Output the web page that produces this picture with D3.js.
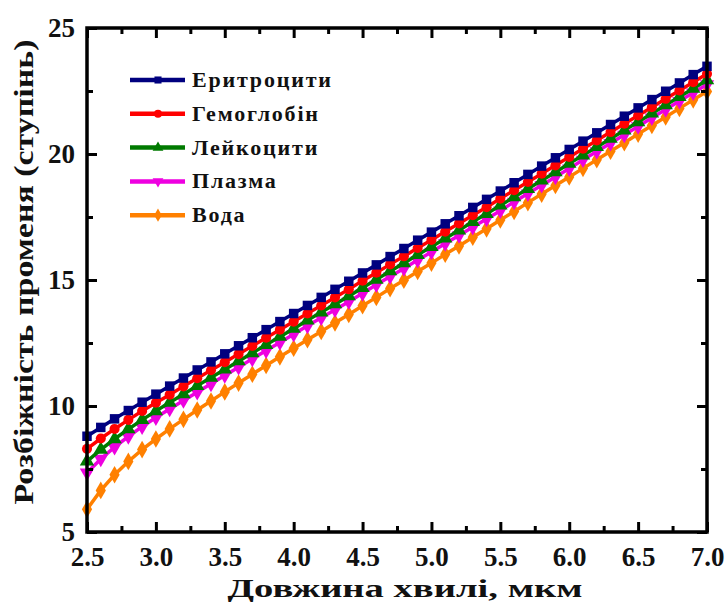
<!DOCTYPE html>
<html>
<head>
<meta charset="utf-8">
<script src="https://cdn.jsdelivr.net/npm/d3@7"></script>
<style>
  body { margin: 0; background: #fff; }
  text { font-family: "Liberation Serif", "Times New Roman", serif; font-weight: bold; fill: #111; }
</style>
</head>
<body>
<div id="chart"></div>
<script>
const width = 726
const height = 603
const margin = { top: 28, bottom: 71, left: 87, right: 19 }

// wavelength, um
const wavelength = [2.5, 2.6, 2.7, 2.8, 2.9, 3.0, 3.1, 3.2, 3.3, 3.4, 3.5, 3.6, 3.7, 3.8, 3.9, 4.0,
    4.1, 4.2, 4.3, 4.4, 4.5, 4.6, 4.7, 4.8, 4.9, 5.0, 5.1, 5.2, 5.3, 5.4, 5.5, 5.6, 5.7, 5.8, 5.9, 6.0,
    6.1, 6.2, 6.3, 6.4, 6.5, 6.6, 6.7, 6.8, 6.9, 7.0]

const erythrocytes = [8.80, 9.15, 9.49, 9.82, 10.15, 10.47, 10.79, 11.11, 11.43, 11.75, 12.07, 12.39, 12.71, 13.03, 13.35, 13.67,
    13.99, 14.31, 14.63, 14.95, 15.28, 15.60, 15.93, 16.25, 16.58, 16.90, 17.23, 17.55, 17.88, 18.20, 18.53, 18.86, 19.19, 19.52, 19.85, 20.18,
    20.51, 20.84, 21.17, 21.50, 21.83, 22.16, 22.49, 22.82, 23.15, 23.48]
const hemoglobin = [8.30, 8.71, 9.09, 9.45, 9.80, 10.13, 10.45, 10.78, 11.10, 11.42, 11.74, 12.06, 12.38, 12.71, 13.03, 13.35,
    13.67, 13.99, 14.31, 14.63, 14.97, 15.29, 15.62, 15.94, 16.27, 16.59, 16.92, 17.24, 17.57, 17.89, 18.23, 18.56, 18.89, 19.22, 19.55, 19.88,
    20.21, 20.54, 20.87, 21.20, 21.53, 21.86, 22.19, 22.52, 22.85, 23.18]
const leukocytes = [7.80, 8.27, 8.69, 9.08, 9.45, 9.80, 10.14, 10.47, 10.80, 11.13, 11.45, 11.78, 12.10, 12.43, 12.75, 13.07,
    13.40, 13.72, 14.04, 14.36, 14.69, 15.02, 15.35, 15.67, 16.00, 16.32, 16.65, 16.97, 17.31, 17.63, 17.96, 18.29, 18.62, 18.95, 19.28, 19.62,
    19.95, 20.28, 20.61, 20.94, 21.27, 21.61, 21.94, 22.27, 22.60, 22.93]
const plasma = [7.35, 7.90, 8.37, 8.79, 9.18, 9.54, 9.88, 10.22, 10.55, 10.88, 11.21, 11.54, 11.87, 12.20, 12.52, 12.85,
    13.18, 13.50, 13.82, 14.14, 14.47, 14.81, 15.14, 15.46, 15.79, 16.11, 16.45, 16.77, 17.10, 17.42, 17.75, 18.10, 18.43, 18.76, 19.09, 19.42,
    19.77, 20.10, 20.43, 20.76, 21.09, 21.44, 21.77, 22.10, 22.43, 22.76]
const water = [5.90, 6.65, 7.27, 7.80, 8.27, 8.69, 9.09, 9.47, 9.84, 10.20, 10.56, 10.91, 11.26, 11.61, 11.95, 12.29,
    12.63, 12.96, 13.30, 13.63, 13.98, 14.31, 14.66, 14.99, 15.34, 15.67, 16.02, 16.35, 16.70, 17.03, 17.38, 17.72, 18.07, 18.41, 18.75, 19.09,
    19.43, 19.77, 20.11, 20.45, 20.79, 21.13, 21.47, 21.81, 22.15, 22.48]

const seriesNames = ["Еритроцити", "Гемоглобін", "Лейкоцити", "Плазма", "Вода"]
const seriesColors = ["#00007f", "#ff0000", "#007a00", "#ee00e0", "#ff8000"]
const seriesSymbols = [d3.symbolSquare, d3.symbolCircle, d3.symbolTriangle, d3.symbolTriangle, d3.symbolDiamond]
const seriesValues = [erythrocytes, hemoglobin, leukocytes, plasma, water]

const xTicks = [2.5, 3.0, 3.5, 4.0, 4.5, 5.0, 5.5, 6.0, 6.5, 7.0]
const xMinor = [2.75, 3.25, 3.75, 4.25, 4.75, 5.25, 5.75, 6.25, 6.75]
const yTicks = [5, 10, 15, 20, 25]
const yMinor = [7.5, 12.5, 17.5, 22.5]

const innerW = width - margin.left - margin.right
const innerH = height - margin.top - margin.bottom

const svg = d3.select("div#chart").append("svg").attr("width", width).attr("height", height)
const elementGroup = svg.append("g").attr("id", "elementGroup").attr("transform", `translate(${margin.left}, ${margin.top})`)
const axisGroup = svg.append("g").attr("id", "axisGroup").attr("transform", `translate(${margin.left}, ${margin.top})`)

const x = d3.scaleLinear().domain([2.5, 7.0]).range([0, innerW])
const y = d3.scaleLinear().domain([5, 25]).range([innerH, 0])

const data = seriesNames.map((name, i) => ({
    name: name,
    color: seriesColors[i],
    symbol: seriesSymbols[i],
    flip: i === 3,
    values: wavelength.map((w, j) => ({ x: w, y: seriesValues[i][j] }))
}))

const line = d3.line().x(d => x(d.x)).y(d => y(d.y))

// curves, drawn back to front so that blue ends up on top
const series = elementGroup.selectAll("g.series").data(data.slice().reverse()).enter().append("g").attr("class", "series")
series.append("path")
    .attr("d", d => line(d.values))
    .attr("fill", "none")
    .attr("stroke", d => d.color)
    .attr("stroke-width", 3.5)
series.selectAll("path.marker").data(d => d.values.map(v => ({ ...v, s: d }))).enter().append("path")
    .attr("class", "marker")
    .attr("d", d => d3.symbol().type(d.s.symbol).size(d.s.symbol === d3.symbolCircle ? 80 : 90)())
    .attr("transform", d => `translate(${x(d.x)}, ${y(d.y)})` + (d.s.flip ? " rotate(180)" : ""))
    .attr("fill", d => d.s.color)

// axes: major and minor ticks pointing inward on all four sides
function styleAxis(g) {
    g.select(".domain").remove()
    g.selectAll(".tick line").attr("stroke", "#000").attr("stroke-width", 3)
    g.selectAll(".tick text").attr("font-size", 27).attr("fill", "#111")
        .style("font-family", "'Liberation Serif', serif").style("font-weight", "bold")
}

axisGroup.append("g").attr("transform", `translate(0, ${innerH})`)
    .call(d3.axisBottom(x).tickValues(xTicks).tickSizeInner(-10).tickSizeOuter(0).tickPadding(15).tickFormat(d3.format(".1f")))
    .call(styleAxis)
axisGroup.append("g").attr("transform", `translate(0, ${innerH})`)
    .call(d3.axisBottom(x).tickValues(xMinor).tickSizeInner(-6).tickSizeOuter(0).tickFormat(""))
    .call(styleAxis)
axisGroup.append("g")
    .call(d3.axisTop(x).tickValues(xTicks).tickSizeInner(-10).tickSizeOuter(0).tickFormat(""))
    .call(styleAxis)
axisGroup.append("g")
    .call(d3.axisTop(x).tickValues(xMinor).tickSizeInner(-6).tickSizeOuter(0).tickFormat(""))
    .call(styleAxis)

axisGroup.append("g")
    .call(d3.axisLeft(y).tickValues(yTicks).tickSizeInner(-10).tickSizeOuter(0).tickPadding(12).tickFormat(d3.format("d")))
    .call(styleAxis)
axisGroup.append("g")
    .call(d3.axisLeft(y).tickValues(yMinor).tickSizeInner(-6).tickSizeOuter(0).tickFormat(""))
    .call(styleAxis)
axisGroup.append("g").attr("transform", `translate(${innerW}, 0)`)
    .call(d3.axisRight(y).tickValues(yTicks).tickSizeInner(-10).tickSizeOuter(0).tickFormat(""))
    .call(styleAxis)
axisGroup.append("g").attr("transform", `translate(${innerW}, 0)`)
    .call(d3.axisRight(y).tickValues(yMinor).tickSizeInner(-6).tickSizeOuter(0).tickFormat(""))
    .call(styleAxis)

axisGroup.append("rect")
    .attr("width", innerW).attr("height", innerH)
    .attr("fill", "none").attr("stroke", "#000").attr("stroke-width", 3.5)

// axis titles
svg.append("text").text("Довжина хвилі, мкм")
    .attr("x", 405).attr("y", 597)
    .attr("text-anchor", "middle")
    .attr("font-size", 25)
    .attr("textLength", 355).attr("lengthAdjust", "spacingAndGlyphs")

svg.append("text").text("Розбіжність променя (ступінь)")
    .attr("transform", `translate(${33}, ${272}) rotate(-90)`)
    .attr("text-anchor", "middle")
    .attr("font-size", 27)
    .attr("textLength", 465).attr("lengthAdjust", "spacingAndGlyphs")

// legend
const legend = svg.append("g").attr("id", "legend").attr("transform", "translate(130, 80)")
const legendItem = legend.selectAll("g").data(data).enter().append("g")
    .attr("transform", (d, i) => `translate(0, ${i * 33.8})`)
legendItem.append("line")
    .attr("x1", 0).attr("x2", 55).attr("y1", 0).attr("y2", 0)
    .attr("stroke", d => d.color).attr("stroke-width", 4.5)
legendItem.append("path")
    .attr("d", d => d3.symbol().type(d.symbol).size(50)())
    .attr("transform", d => "translate(28, 0)" + (d.flip ? " rotate(180)" : ""))
    .attr("fill", d => d.color)
legendItem.append("text").text(d => d.name)
    .attr("x", 62).attr("y", 7)
    .attr("font-size", 22)
    .attr("letter-spacing", 1.8)
</script>
</body>
</html>
